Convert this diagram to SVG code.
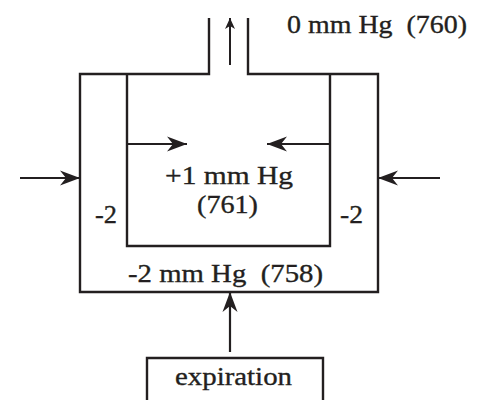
<svg xmlns="http://www.w3.org/2000/svg" width="488" height="400" viewBox="0 0 488 400">
<style>
.ln{stroke:#231f20;stroke-width:2.4;fill:none}
.ar{stroke:#231f20;stroke-width:2.2;fill:none;marker-end:url(#ah)}
.ar2{stroke:#231f20;stroke-width:2;fill:none;marker-end:url(#ahs)}
.t{font-family:"Liberation Serif","Times New Roman",serif;fill:#231f20;font-size:26px;white-space:pre;stroke:#231f20;stroke-width:0.35}
</style>
<defs>
<marker id="ah" markerUnits="userSpaceOnUse" markerWidth="24" markerHeight="18" viewBox="-22 -9 24 18" refX="0" refY="0" orient="auto">
<path d="M0,0 L-20,-7.5 L-14,0 L-20,7.5 Z" fill="#231f20"/>
</marker>
<marker id="ahs" markerUnits="userSpaceOnUse" markerWidth="14" markerHeight="12" viewBox="-13 -6 14 12" refX="0" refY="0" orient="auto">
<path d="M0,0 L-11,-5 L-8,0 L-11,5 Z" fill="#231f20"/>
</marker>
</defs>
<rect width="488" height="400" fill="#fff"/>
<g id="chamber">
<path class="ln" d="M209,18 V74 H80 V292 H378 V74 H248 V18"/>
<path class="ln" d="M127,74 V246 H330 V74"/>
</g>
<g id="expiration">
<path class="ln" d="M147,402 V358 H323 V402"/>
<text class="t" x="175" y="385" textLength="117" lengthAdjust="spacingAndGlyphs">expiration</text>
</g>
<g id="labels">
<text class="t" x="287" y="33" textLength="180" lengthAdjust="spacingAndGlyphs">0 mm Hg  (760)</text>
<text class="t" x="165" y="184" textLength="128" lengthAdjust="spacingAndGlyphs">+1 mm Hg</text>
<text class="t" x="197" y="213" textLength="61" lengthAdjust="spacingAndGlyphs">(761)</text>
<text class="t" x="95" y="223" textLength="22" lengthAdjust="spacingAndGlyphs">-2</text>
<text class="t" x="340" y="223" textLength="23" lengthAdjust="spacingAndGlyphs">-2</text>
<text class="t" x="128" y="282" textLength="195" lengthAdjust="spacingAndGlyphs">-2 mm Hg  (758)</text>
</g>
<g id="connectors">
<line class="ar2" x1="230" y1="65" x2="230" y2="18"/>
<line class="ar" x1="127" y1="144" x2="187" y2="144"/>
<line class="ar" x1="330" y1="144" x2="267" y2="144"/>
<line class="ar" x1="20" y1="178" x2="80" y2="178"/>
<line class="ar" x1="440" y1="178" x2="378" y2="178"/>
<line class="ar" x1="230" y1="352" x2="230" y2="292"/>
</g>
</svg>
